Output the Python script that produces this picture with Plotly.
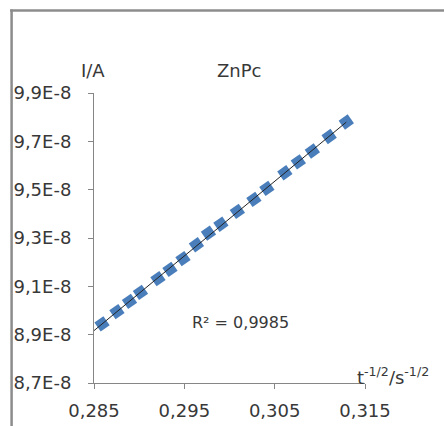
import numpy as np
import plotly.graph_objects as go

# Data (x: t^-1/2 / s^-1/2, y: I / A)
x_vals = [0.28589, 0.28754, 0.28893, 0.29014, 0.29208, 0.29341, 0.29485, 0.29634, 0.29767,
          0.29905, 0.30087, 0.30270, 0.30414, 0.30613, 0.30762, 0.30917, 0.31103, 0.31293]
y_vals = [8.945e-8, 8.995e-8, 9.038e-8, 9.075e-8, 9.132e-8, 9.170e-8, 9.215e-8, 9.272e-8, 9.320e-8,
          9.357e-8, 9.410e-8, 9.460e-8, 9.505e-8, 9.570e-8, 9.615e-8, 9.660e-8, 9.720e-8, 9.780e-8]

x_ticks = [0.285, 0.295, 0.305, 0.315]
x_tick_labels = ["0,285", "0,295", "0,305", "0,315"]
y_ticks = [8.7e-8, 8.9e-8, 9.1e-8, 9.3e-8, 9.5e-8, 9.7e-8, 9.9e-8]
y_tick_labels = ["8,7E-8", "8,9E-8", "9,1E-8", "9,3E-8", "9,5E-8", "9,7E-8", "9,9E-8"]

title_text = "ZnPc"
y_title = "I/A"
x_title = "t<sup>-1/2</sup>/s<sup>-1/2</sup>"
r2_text = "R² = 0,9985"

# linear trendline
slope, intercept = np.polyfit(x_vals, y_vals, 1)
tx = [0.285, max(x_vals)]
ty = [slope * v + intercept for v in tx]

FONT = "DejaVu Sans"
TXT = "#383838"
AX = "#868686"

fig = go.Figure()
fig.add_trace(go.Scatter(
    x=x_vals, y=y_vals, mode="markers",
    marker=dict(symbol="square", size=11, angle=-35, color="#4a7ebb",
                line=dict(width=0)),
    showlegend=False, hoverinfo="skip"))
fig.add_trace(go.Scatter(
    x=tx, y=ty, mode="lines", line=dict(color="#222222", width=1),
    showlegend=False, hoverinfo="skip"))

W, H = 444, 426
L, R, T, B = 94, 365.3, 92.7, 383.3
pw, ph = R - L, B - T

def px(xp):
    return (xp - L) / pw

def py(yp):
    return (B - yp) / ph

fig.update_layout(
    width=W, height=H,
    margin=dict(l=L, r=W - R, t=T, b=H - B, pad=0, autoexpand=False),
    paper_bgcolor="white", plot_bgcolor="white",
    font=dict(family=FONT, size=18, color=TXT),
    xaxis=dict(range=[0.285, 0.315], tickvals=x_ticks, ticktext=x_tick_labels,
               showgrid=False, zeroline=False, showline=True, linecolor=AX, linewidth=1,
               ticks="outside", ticklen=5, tickcolor=AX, tickwidth=1,
               ticklabelstandoff=6, automargin=False,
               tickfont=dict(family=FONT, size=18, color=TXT)),
    yaxis=dict(range=[8.7e-8, 9.9e-8], tickvals=y_ticks, ticktext=y_tick_labels,
               showgrid=False, zeroline=False, showline=True, linecolor=AX, linewidth=1,
               ticks="outside", ticklen=5, tickcolor=AX, tickwidth=1,
               ticklabelstandoff=13, automargin=False,
               tickfont=dict(family=FONT, size=18, color=TXT)),
    shapes=[
        dict(type="line", xref="paper", yref="paper", x0=px(11.5), x1=px(11.5),
             y0=py(9), y1=py(430), line=dict(color="#8c8c8c", width=2.5)),
        dict(type="line", xref="paper", yref="paper", x0=px(10), x1=px(450),
             y0=py(10), y1=py(10), line=dict(color="#8c8c8c", width=2.5)),
    ],
    annotations=[
        dict(text=title_text, xref="paper", yref="paper", x=px(240), y=py(70),
             showarrow=False, xanchor="center", yanchor="middle",
             font=dict(family=FONT, size=18, color=TXT)),
        dict(text=y_title, xref="paper", yref="paper", x=px(92.5), y=py(70),
             showarrow=False, xanchor="center", yanchor="middle",
             font=dict(family=FONT, size=18, color=TXT)),
        dict(text=r2_text, xref="paper", yref="paper", x=px(241), y=py(323),
             showarrow=False, xanchor="center", yanchor="middle",
             font=dict(family=FONT, size=16, color=TXT)),
        dict(text=x_title, xref="paper", yref="paper", x=px(393), y=py(376),
             showarrow=False, xanchor="center", yanchor="middle",
             font=dict(family=FONT, size=18, color=TXT)),
    ],
)

fig.write_html("out.html")
